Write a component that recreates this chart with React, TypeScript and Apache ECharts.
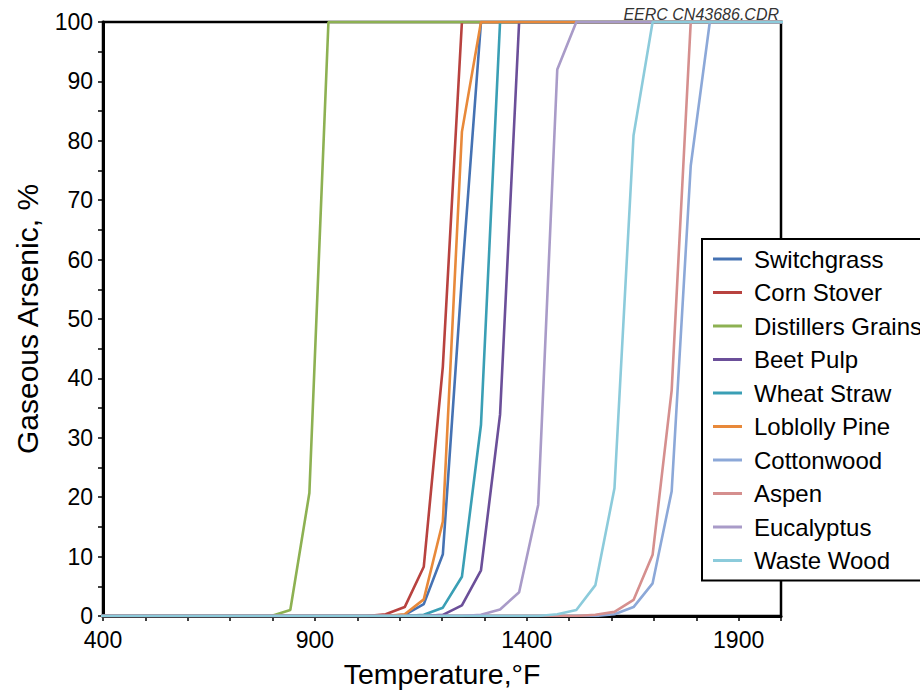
import React, { useEffect, useRef } from "react";
import * as echarts from "echarts";

// Temperatures (°F) of the sampled points (25 °C steps)
const temperaturesF = [
  392, 437, 482, 527, 572, 617, 662, 707, 752, 797, 842, 887, 932, 977, 1022,
  1067, 1112, 1157, 1202, 1247, 1292, 1337, 1382, 1427, 1472, 1517, 1562, 1607,
  1652, 1697, 1742, 1787, 1832, 1877, 1922, 1967, 2012,
];

const seriesNames = [
  "Switchgrass",
  "Corn Stover",
  "Distillers Grains",
  "Beet Pulp",
  "Wheat Straw",
  "Loblolly Pine",
  "Cottonwood",
  "Aspen",
  "Eucalyptus",
  "Waste Wood",
];

const seriesColors = [
  "#4572b3",
  "#b8423f",
  "#8db152",
  "#6b4f99",
  "#3a9fb5",
  "#e8893a",
  "#8ca8d8",
  "#d58f8e",
  "#a99bc8",
  "#8ccbdb",
];

// Gaseous arsenic (%) per series, aligned with temperaturesF
const switchgrass = [0,0,0,0,0,0,0,0,0,0,0,0,0,0,0,0,0.2,2.0,10.4,57,100,100,100,100,100,100,100,100,100,100,100,100,100,100,100,100,100];
const cornStover = [0,0,0,0,0,0,0,0,0,0,0,0,0,0,0,0.3,1.5,8.3,42,100,100,100,100,100,100,100,100,100,100,100,100,100,100,100,100,100,100];
const distillersGrains = [0,0,0,0,0,0,0,0,0,0,1.0,20.7,100,100,100,100,100,100,100,100,100,100,100,100,100,100,100,100,100,100,100,100,100,100,100,100,100];
const beetPulp = [0,0,0,0,0,0,0,0,0,0,0,0,0,0,0,0,0,0,0.2,1.8,7.7,33.9,100,100,100,100,100,100,100,100,100,100,100,100,100,100,100];
const wheatStraw = [0,0,0,0,0,0,0,0,0,0,0,0,0,0,0,0,0,0.2,1.4,6.6,32.2,100,100,100,100,100,100,100,100,100,100,100,100,100,100,100,100];
const loblollyPine = [0,0,0,0,0,0,0,0,0,0,0,0,0,0,0,0,0.3,2.8,15.9,81.5,100,100,100,100,100,100,100,100,100,100,100,100,100,100,100,100,100];
const cottonwood = [0,0,0,0,0,0,0,0,0,0,0,0,0,0,0,0,0,0,0,0,0,0,0,0,0,0,0,0.3,1.5,5.5,21,75.8,100,100,100,100,100];
const aspen = [0,0,0,0,0,0,0,0,0,0,0,0,0,0,0,0,0,0,0,0,0,0,0,0,0,0,0.2,0.7,2.7,10.3,38,100,100,100,100,100,100];
const eucalyptus = [0,0,0,0,0,0,0,0,0,0,0,0,0,0,0,0,0,0,0,0,0.2,1.1,4.0,18.7,92,100,100,100,100,100,100,100,100,100,100,100,100];
const wasteWood = [0,0,0,0,0,0,0,0,0,0,0,0,0,0,0,0,0,0,0,0,0,0,0,0,0.3,1.0,5.2,21.5,80.9,100,100,100,100,100,100,100,100];

const seriesValues = [
  switchgrass,
  cornStover,
  distillersGrains,
  beetPulp,
  wheatStraw,
  loblollyPine,
  cottonwood,
  aspen,
  eucalyptus,
  wasteWood,
];

const xLabels = [400, 900, 1400, 1900];
const yLabels = [0, 10, 20, 30, 40, 50, 60, 70, 80, 90, 100];

const FONT = "'Liberation Sans', Arial, sans-serif";

export default function App() {
  const ref = useRef<HTMLDivElement>(null);

  useEffect(() => {
    if (!ref.current) return;
    const chart = echarts.init(ref.current, null, { renderer: "svg" });
    chart.setOption({
      animation: false,
      backgroundColor: "#ffffff",
      textStyle: { fontFamily: FONT },
      grid: {
        left: 103,
        right: 139,
        top: 22,
        bottom: 82,
        show: true,
        borderColor: "#000",
        borderWidth: 2.5,
        backgroundColor: "transparent",
      },
      graphic: [
        {
          type: "text",
          x: 779,
          y: 14,
          style: {
            text: "EERC CN43686.CDR",
            font: `italic 16px ${FONT}`,
            fill: "#333",
            textAlign: "right",
            textVerticalAlign: "middle",
          },
        },
      ],
      legend: {
        orient: "vertical",
        left: 702,
        top: 239,
        padding: [8, 14, 8, 11],
        itemGap: 9.5,
        itemWidth: 29,
        itemHeight: 3,
        icon: "rect",
        backgroundColor: "#fff",
        borderColor: "#000",
        borderWidth: 2,
        borderRadius: 0,
        textStyle: {
          fontFamily: FONT,
          fontSize: 24,
          color: "#000",
          padding: [0, 0, 0, 7],
        },
        data: seriesNames,
      },
      xAxis: {
        type: "value",
        min: 400,
        max: 2000,
        interval: 100,
        name: "Temperature,°F",
        nameLocation: "middle",
        nameGap: 43,
        nameTextStyle: { fontSize: 28.5, color: "#000", fontFamily: FONT },
        axisLine: { show: true, lineStyle: { color: "#000", width: 3 } },
        axisTick: { show: true, length: 5, lineStyle: { color: "#000", width: 1.5 } },
        axisLabel: {
          fontSize: 23,
          color: "#000",
          fontFamily: FONT,
          margin: 12,
          formatter: (v: number) => (xLabels.includes(v) ? String(v) : ""),
        },
        splitLine: { show: false },
      },
      yAxis: {
        type: "value",
        min: 0,
        max: 100,
        interval: 5,
        name: "Gaseous Arsenic, %",
        nameLocation: "middle",
        nameGap: 61,
        nameTextStyle: { fontSize: 30, color: "#000", fontFamily: FONT },
        axisLine: { show: true, lineStyle: { color: "#000", width: 3 } },
        axisTick: { show: true, length: 5, lineStyle: { color: "#000", width: 1.5 } },
        axisLabel: {
          fontSize: 23,
          color: "#000",
          fontFamily: FONT,
          margin: 10,
          formatter: (v: number) => (yLabels.includes(v) ? String(v) : ""),
        },
        splitLine: { show: false },
      },
      series: seriesNames.map((name, i) => ({
        name,
        type: "line",
        data: temperaturesF.map((t, j) => [t, seriesValues[i][j]]),
        showSymbol: false,
        symbol: "none",
        clip: true,
        lineStyle: { color: seriesColors[i], width: 2.6 },
        itemStyle: { color: seriesColors[i] },
      })),
    });
    return () => chart.dispose();
  }, []);

  return (
    <div
      ref={ref}
      style={{ position: "absolute", left: 0, top: 0, width: 920, height: 698 }}
    />
  );
}
